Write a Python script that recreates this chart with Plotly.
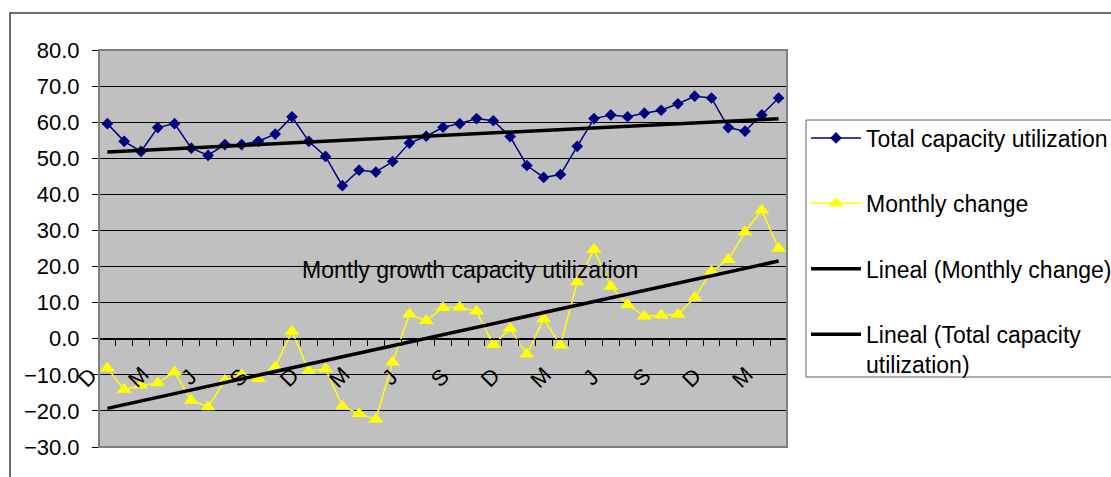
import numpy as np
import plotly.graph_objects as go

# ---- data ----
month_index = list(range(41))  # Dec ... Apr, monthly
tick_labels = ["D", "M", "J", "S", "D", "M", "J", "S", "D", "M", "J", "S", "D", "M"]
tick_positions = list(range(0, 41, 3))

total_capacity = [59.6, 54.7, 51.9, 58.5, 59.6, 52.8, 50.8, 53.8, 53.8, 54.7,
                  56.7, 61.5, 54.7, 50.5, 42.4, 46.7, 46.2, 49.1, 54.2, 56.1,
                  58.6, 59.6, 61.0, 60.4, 56.0, 48.0, 44.7, 45.5, 53.3, 61.0,
                  62.0, 61.5, 62.5, 63.3, 65.1, 67.2, 66.7, 58.5, 57.5, 62.0,
                  66.7]
monthly_change = [-8.2, -14.1, -12.9, -12.3, -9.2, -17.1, -18.9, -11.6, -10.0, -11.1,
                  -7.8, 2.0, -8.9, -8.4, -18.7, -20.8, -22.4, -6.5, 6.8, 5.0,
                  8.6, 8.7, 7.6, -1.7, 2.8, -4.3, 5.5, -1.8, 15.7, 24.7,
                  14.5, 9.4, 6.2, 6.5, 6.7, 11.4, 18.7, 21.9, 29.6, 35.6,
                  25.0]

# linear trendlines ("Lineal") fitted to the series
x_arr = np.array(month_index, dtype=float)
pm = np.polyfit(x_arr, monthly_change, 1)
pt = np.polyfit(x_arr, total_capacity, 1)
trend_monthly = list(np.polyval(pm, x_arr))
trend_total = list(np.polyval(pt, x_arr))

# ---- layout geometry ----
W, H = 1111, 477
ML, MR, MT, MB = 99, 324, 50, 30
PW, PH = W - ML - MR, H - MT - MB


def px_x(x):
    return (x - ML) / PW


def px_y(y):
    return (H - MB - y) / PH


FONT = "Liberation Sans, Arial, sans-serif"
FS = 22
FS2 = 23

fig = go.Figure()
fig.add_trace(go.Scatter(
    x=month_index, y=total_capacity, mode="lines+markers",
    name="Total capacity utilization", legendgroup="a",
    line=dict(color="#000080", width=1.5),
    marker=dict(symbol="diamond", size=9, color="#000080"),
))
fig.add_trace(go.Scatter(
    x=month_index, y=monthly_change, mode="lines+markers",
    name="Monthly change", legendgroup="b",
    line=dict(color="#FFFF00", width=1.5),
    marker=dict(symbol="triangle-up", size=13, color="#FFFF00"),
))
fig.add_trace(go.Scatter(
    x=month_index, y=trend_monthly, mode="lines",
    name="Lineal (Monthly change)", legendgroup="c",
    line=dict(color="#000000", width=3.5),
))
fig.add_trace(go.Scatter(
    x=month_index, y=trend_total, mode="lines",
    name="Lineal (Total capacity<br>utilization)", legendgroup="d",
    line=dict(color="#000000", width=3.5),
))

boundaries = [i - 0.5 for i in range(42)]

# rotated month initials under the zero line (category axis labels)
label_annotations = [
    dict(x=p, y=px_y(377), xref="x", yref="paper", text=t, textangle=-45,
         xanchor="center", yanchor="middle", xshift=-20, showarrow=False,
         font=dict(family=FONT, size=FS, color="black"))
    for p, t in zip(tick_positions, tick_labels)
]

fig.update_layout(
    width=W, height=H,
    margin=dict(l=ML, r=MR, t=MT, b=MB, autoexpand=False),
    paper_bgcolor="white",
    plot_bgcolor="#C0C0C0",
    font=dict(family=FONT, size=FS, color="black"),
    xaxis=dict(
        range=[-0.5, 40.5],
        anchor="free", position=30 / 110,
        tickmode="array", tickvals=boundaries, showticklabels=False,
        ticks="outside", ticklen=6, tickcolor="black", tickwidth=1,
        showgrid=False, zeroline=False,
        showline=True, linecolor="black", linewidth=1,
    ),
    yaxis=dict(
        range=[-30, 80], dtick=10, tick0=0, tickformat=".1f",
        ticks="outside", ticklen=6, tickcolor="black",
        ticklabelstandoff=8,
        showgrid=True, gridcolor="#000000", gridwidth=1,
        zeroline=False, showline=False,
        tickfont=dict(family=FONT, size=FS, color="black"),
    ),
    showlegend=True,
    legend=dict(
        x=px_x(806), y=px_y(116.5), xanchor="left", yanchor="top",
        bgcolor="rgba(0,0,0,0)", borderwidth=0,
        traceorder="grouped", tracegroupgap=32.5, valign="top",
        itemwidth=50,
        font=dict(family=FONT, size=FS2, color="black"),
    ),
    annotations=[dict(
        x=px_x(300), y=px_y(270), xref="paper", yref="paper",
        xanchor="left", yanchor="middle", showarrow=False,
        text="Montly growth capacity utilization",
        font=dict(family=FONT, size=FS2, color="black"),
    )] + label_annotations,
    shapes=[
        # outer chart border
        dict(type="rect", xref="paper", yref="paper",
             x0=px_x(10), y0=px_y(490), x1=px_x(1125), y1=px_y(13),
             line=dict(color="#404040", width=1.5), layer="below"),
        # plot-area border
        dict(type="rect", xref="paper", yref="paper", x0=0, y0=0, x1=1, y1=1,
             line=dict(color="#808080", width=2), layer="above"),
        # legend box
        dict(type="rect", xref="paper", yref="paper",
             x0=px_x(806), y0=px_y(377), x1=px_x(1130), y1=px_y(120),
             line=dict(color="#606060", width=1), fillcolor="white",
             layer="above"),
    ],
)

fig.write_html("out.html")
